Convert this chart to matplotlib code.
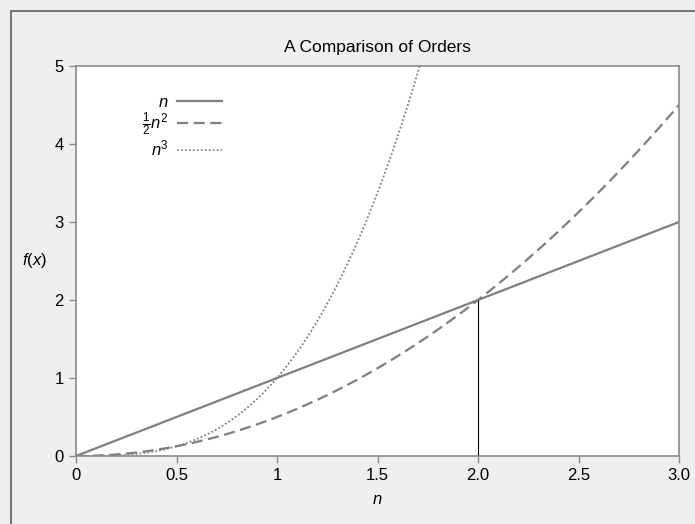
import numpy as np
import matplotlib
matplotlib.use("Agg")
import matplotlib.pyplot as plt
from matplotlib.lines import Line2D

plt.rcParams['font.family'] = ['Liberation Sans', 'DejaVu Sans']
plt.rcParams['mathtext.fontset'] = 'custom'
plt.rcParams['mathtext.rm'] = 'Liberation Sans'
plt.rcParams['mathtext.it'] = 'Liberation Sans:italic'
plt.rcParams['mathtext.bf'] = 'Liberation Sans:bold'

# Data
n = np.linspace(0, 3, 301)
f_linear = n
f_half_square = 0.5 * n ** 2
f_cube = n ** 3
labels = ["$n$", r"$\frac{1}{2}n^2$", "$n^3$"]
x_ticks = [0, 0.5, 1, 1.5, 2.0, 2.5, 3.0]
x_tick_labels = ["0", "0.5", "1", "1.5", "2.0", "2.5", "3.0"]
y_ticks = [0, 1, 2, 3, 4, 5]
marker_x = 2.0
marker_y = 2.0

bg = '#efefef'
line_col = '#7f7f7f'
spine_col = '#8a8a8a'

fig = plt.figure(figsize=(6.95, 5.24), dpi=100, facecolor=bg)
ax = fig.add_axes([76/695, 1-456/524, (679-76)/695, (456-66)/524])
ax.set_facecolor('white')

ax.plot(n, f_linear, color=line_col, lw=1.6, ls='-', label=labels[0])
ax.plot(n, f_half_square, color=line_col, lw=1.6, ls=(0, (5, 2.5)), label=labels[1])
ax.plot(n, f_cube, color=line_col, lw=1.3, ls=(0, (1, 1.2)), label=labels[2])
ax.vlines(marker_x, 0, marker_y, color='black', lw=0.8)

ax.set_xlim(0, 3)
ax.set_ylim(0, 5)
ax.set_xticks(x_ticks)
ax.set_xticklabels(x_tick_labels)
ax.set_yticks(y_ticks)
ax.tick_params(direction='out', length=5, width=1, color=spine_col, labelsize=12, pad=4)
for s in ax.spines.values():
    s.set_color(spine_col)
    s.set_linewidth(1.2)

ax.set_title("A Comparison of Orders", fontsize=12.5, pad=10)
ax.set_xlabel("$n$", fontsize=12, labelpad=6)
ax.set_ylabel("$f(x)$", fontsize=12, rotation=0, labelpad=14, va='center')

leg = ax.legend(loc='upper left', bbox_to_anchor=(0.085, 0.965), frameon=False,
                markerfirst=False, fontsize=12, handlelength=2.7,
                labelspacing=0.05, handletextpad=0.5)
for t in leg.get_texts():
    t.set_ha('right')

# figure frame
fig.add_artist(Line2D([11/695, 1], [1-11/524, 1-11/524], color='#777777', lw=1.5, transform=fig.transFigure))
fig.add_artist(Line2D([11/695, 11/695], [0, 1-11/524], color='#777777', lw=1.5, transform=fig.transFigure))

fig.savefig("out.png", dpi=100, facecolor=bg)
